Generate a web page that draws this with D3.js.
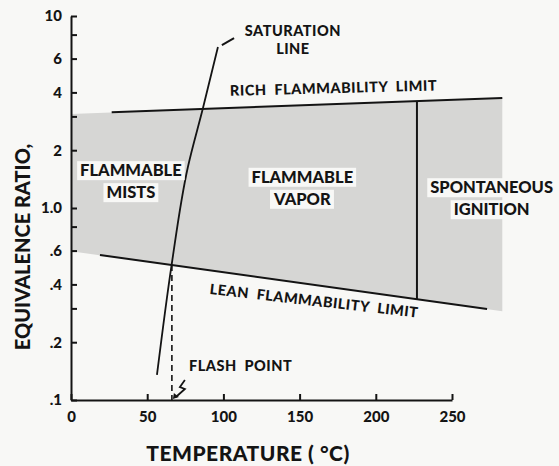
<!DOCTYPE html>
<head>
<meta charset="utf-8">
<script src="https://d3js.org/d3.v7.min.js"></script>
<style>
  body { margin: 0; background: #f8f8f6; }
  text { font-family: Lato, "Open Sans", sans-serif; font-weight: 900; fill: #141414; }
  .axis path, .axis line { stroke: #141414; stroke-width: 2; }
  .axis text { font-size: 15px; font-family: Lato, sans-serif; }
</style>
</head>
<body>
<script>
// data (temperature in degC, equivalence ratio)
const tempTicks = [0, 50, 100, 150, 200, 250];
const ratioTicks = [10, 8, 6, 4, 3, 2, 1, 0.8, 0.6, 0.4, 0.3, 0.2, 0.1];
const ratioLabels = { 10: "10", 6: "6", 4: "4", 2: "2", 1: "1.0", 0.6: ".6", 0.4: ".4", 0.2: ".2", 0.1: ".1" };

const flammableZone = [[0, 3.09], [283, 3.74], [283, 0.29], [0, 0.595]];
const richLimit = [[26.7, 3.15], [283, 3.74]];
const leanLimit = [[19, 0.569], [273, 0.298]];
const saturationLine = [[56.4, 0.135], [66.2, 0.517], [76.7, 1.635], [86.6, 3.32], [96.4, 6.89]];
const saturationLeader = [[99, 7.06], [107, 7.68]];
const ignitionLine = [[227, 3.6], [227, 0.335]];
const flashPoint = [[66.2, 0.505], [66.2, 0.1]];

const zoneLabels = [
  { lines: ["FLAMMABLE", "MISTS"], t: 39.3, phi: 1.57 },
  { lines: ["FLAMMABLE", "VAPOR"], t: 151.8, phi: 1.45 },
  { lines: ["SPONTANEOUS", "IGNITION"], t: 276, phi: 1.28 }
];
const noteLabels = [
  { lines: ["SATURATION", "LINE"], t: 145.6, phi: 8.4, anchor: "middle", angle: 0 },
  { lines: ["RICH  FLAMMABILITY  LIMIT"], t: 104.3, phi: 4.08, anchor: "start", angle: -1.5 },
  { lines: ["LEAN  FLAMMABILITY  LIMIT"], t: 91.1, phi: 0.379, anchor: "start", angle: 6.5 },
  { lines: ["FLASH  POINT"], t: 77.4, phi: 0.15, anchor: "start", angle: 0 }
];
</script>
<script>
const w = 559, h = 466;

const svg = d3.select("body").append("svg")
  .attr("width", w)
  .attr("height", h);

const x = d3.scaleLinear().domain([0, 250]).range([71, 452]);
const y = d3.scaleLog().domain([0.1, 10]).range([400, 16]);

const line = d3.line().x(d => x(d[0])).y(d => y(d[1]));

// shaded flammable region
svg.append("path")
  .attr("d", line(flammableZone) + "Z")
  .attr("fill", "#d6d6d4");

// boundaries
[richLimit, leanLimit, ignitionLine].forEach(l => {
  svg.append("path").attr("d", line(l))
    .attr("fill", "none").attr("stroke", "#141414").attr("stroke-width", 2);
});

svg.append("path")
  .attr("d", d3.line().curve(d3.curveMonotoneY).x(d => x(d[0])).y(d => y(d[1]))(saturationLine))
  .attr("fill", "none").attr("stroke", "#141414").attr("stroke-width", 1.8);

svg.append("path").attr("d", line(saturationLeader))
  .attr("fill", "none").attr("stroke", "#141414").attr("stroke-width", 2);

svg.append("path").attr("d", line(flashPoint))
  .attr("fill", "none").attr("stroke", "#141414").attr("stroke-width", 1.6)
  .attr("stroke-dasharray", "6,4");

// flash point squiggle arrow
const fx = x(flashPoint[1][0]), fy = y(flashPoint[1][1]);
svg.append("path")
  .attr("d", `M${fx + 13},${fy - 20} L${fx + 8},${fy - 13} L${fx + 13},${fy - 11} L${fx + 4},${fy - 3}`)
  .attr("fill", "none").attr("stroke", "#141414").attr("stroke-width", 1.8);
svg.append("path")
  .attr("d", `M${fx + 1},${fy - 1} L${fx + 2},${fy - 7} L${fx + 7},${fy - 3} Z`)
  .attr("fill", "#141414");

// axes
svg.append("g").attr("class", "axis")
  .attr("transform", `translate(0,${y(0.1)})`)
  .call(d3.axisBottom(x).tickValues(tempTicks).tickSizeInner(-6).tickSizeOuter(0).tickPadding(11)
    .tickFormat(d3.format("d")));

svg.append("g").attr("class", "axis")
  .attr("transform", `translate(${x(0)},0)`)
  .call(d3.axisLeft(y).tickValues(ratioTicks).tickSizeInner(-6).tickSizeOuter(0).tickPadding(9)
    .tickFormat(d => ratioLabels[d] || ""));

svg.selectAll(".axis .domain").attr("stroke-width", 2);

// region labels with white knock-out boxes
zoneLabels.forEach(lb => {
  const g = svg.append("g");
  lb.lines.forEach((s, i) => {
    const t = g.append("text")
      .attr("x", x(lb.t)).attr("y", y(lb.phi) + i * 22)
      .attr("dy", "0.35em")
      .attr("text-anchor", "middle")
      .style("font-size", "16.5px")
      .text(s);
    const b = t.node().getBBox();
    g.insert("rect", "text")
      .attr("x", b.x - 3).attr("y", b.y + 1)
      .attr("width", b.width + 6).attr("height", b.height - 1)
      .attr("fill", "#f8f8f6");
  });
});

noteLabels.forEach(lb => {
  const px = x(lb.t), py = y(lb.phi);
  const g = svg.append("g").attr("transform", `translate(${px},${py}) rotate(${lb.angle})`);
  lb.lines.forEach((s, i) => {
    g.append("text")
      .attr("x", 0).attr("y", i * 18)
      .attr("dy", "0.35em")
      .attr("text-anchor", lb.anchor)
      .style("font-size", "14.5px")
      .style("letter-spacing", "0.5px")
      .style("white-space", "pre")
      .text(s);
  });
});

// axis titles
svg.append("text")
  .attr("x", 248).attr("y", 461)
  .attr("text-anchor", "middle")
  .style("font-size", "21px")
  .style("letter-spacing", "0.5px")
  .text("TEMPERATURE ( °C)");

svg.append("text")
  .attr("transform", "translate(30,247) rotate(-90)")
  .attr("text-anchor", "middle")
  .style("font-size", "20px")
  .text("EQUIVALENCE RATIO,");
</script>
</body>
</html>
